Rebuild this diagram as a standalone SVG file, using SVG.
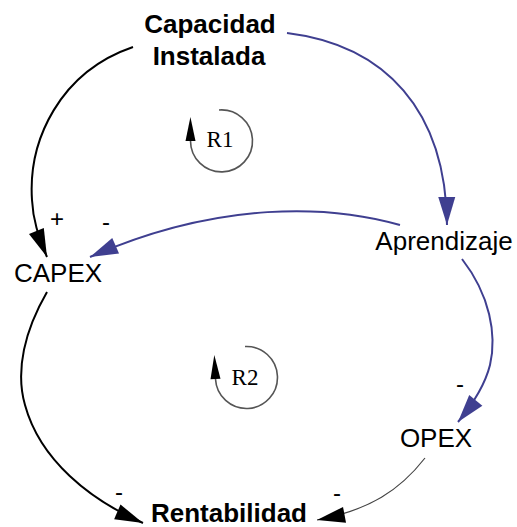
<svg xmlns="http://www.w3.org/2000/svg" width="517" height="527" viewBox="0 0 517 527">
  <style>
    .node { font-family: "Liberation Sans", Arial, sans-serif; font-size: 26px; fill: #000; text-anchor: middle; }
    .bold { font-weight: bold; }
    .loop { font-family: "Liberation Serif", "Times New Roman", serif; font-size: 23px; fill: #000; text-anchor: middle; }
    .sign { font-family: "Liberation Sans", Arial, sans-serif; font-size: 24px; fill: #000; text-anchor: middle; }
    .link { fill: none; stroke-width: 2; }
    .black { stroke: #000; }
    .blue { stroke: #3f3f90; }
    .thin { stroke: #444; stroke-width: 1.2; }
    .ring { fill: none; stroke: #555; stroke-width: 1.6; }
  </style>
  <defs>
    <marker id="headBlack" markerUnits="userSpaceOnUse" markerWidth="32" markerHeight="20" viewBox="-30 -10 32 20" refX="0" refY="0" orient="auto">
      <path d="M0,0 L-28,-8 L-28,8 z" fill="#000"/>
    </marker>
    <marker id="headBlue" markerUnits="userSpaceOnUse" markerWidth="32" markerHeight="20" viewBox="-30 -10 32 20" refX="0" refY="0" orient="auto">
      <path d="M0,0 L-28,-8.5 L-28,8.5 z" fill="#3f3f90"/>
    </marker>
    <marker id="headLoop" markerUnits="userSpaceOnUse" markerWidth="28" markerHeight="14" viewBox="-2 -7 28 14" refX="0" refY="0" orient="auto">
      <path d="M0,-5 L24,0 L0,5 z" fill="#000"/>
    </marker>
  </defs>

  <!-- causal links -->
  <g id="connectors">
    <path class="link black" d="M133,47 C60,72 28,140 32,200 C33,220 38,235 47,257" marker-end="url(#headBlack)"/>
    <path class="link blue" d="M287,33 C385,45 446,110 447,225" marker-end="url(#headBlue)"/>
    <path class="link blue" d="M400,225 C330,205 220,200 90,257" marker-end="url(#headBlue)"/>
    <path class="link blue" d="M462,259 C490,295 497,335 490,365 C485,385 472,405 458,422" marker-end="url(#headBlue)"/>
    <path class="link black" d="M47,292 C25,330 15,370 25,405 C40,460 90,500 143,523" marker-end="url(#headBlack)"/>
    <path class="link thin" d="M425,458 C400,490 370,510 317,520" marker-end="url(#headBlack)"/>
  </g>

  <!-- polarity signs -->
  <g id="signs">
    <text class="sign" x="57" y="227">+</text>
    <text class="sign" x="106" y="230">-</text>
    <text class="sign" x="460" y="392">-</text>
    <text class="sign" x="119" y="500">-</text>
    <text class="sign" x="337" y="501">-</text>
  </g>

  <!-- variables -->
  <g id="capacidad">
    <text class="node bold" x="210" y="33">Capacidad</text>
    <text class="node bold" x="209" y="65">Instalada</text>
  </g>
  <g id="capex">
    <text class="node" x="58" y="282">CAPEX</text>
  </g>
  <g id="aprendizaje">
    <text class="node" x="444" y="250">Aprendizaje</text>
  </g>
  <g id="opex">
    <text class="node" x="436" y="447">OPEX</text>
  </g>
  <g id="rentabilidad">
    <text class="node bold" x="229" y="522">Rentabilidad</text>
  </g>

  <!-- loop markers -->
  <g id="loopR1">
    <path class="ring" d="M219,110 A31,31 0 1 1 190.5,141" marker-end="url(#headLoop)"/>
    <text class="loop" x="220" y="147">R1</text>
  </g>
  <g id="loopR2">
    <path class="ring" d="M245,346.5 A31,31 0 1 1 215.5,379" marker-end="url(#headLoop)"/>
    <text class="loop" x="245" y="385">R2</text>
  </g>
</svg>
